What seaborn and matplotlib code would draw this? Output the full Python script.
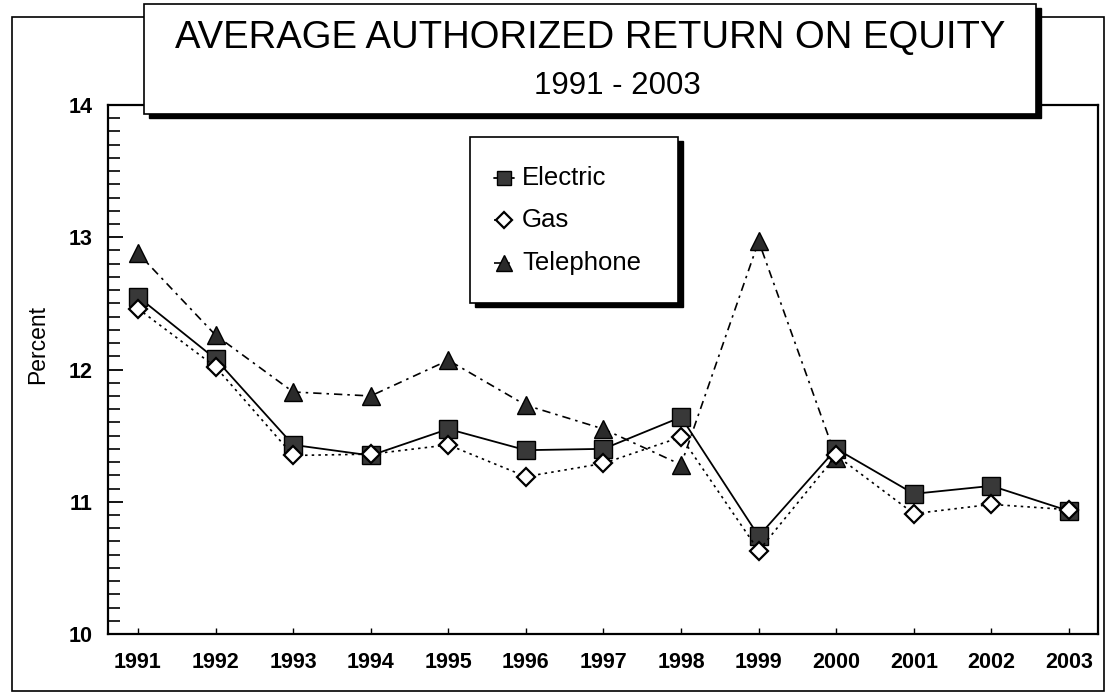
import numpy as np
import pandas as pd
import matplotlib
matplotlib.use("Agg")
import matplotlib.pyplot as plt
import seaborn as sns
from matplotlib.patches import Rectangle
from matplotlib.lines import Line2D
from matplotlib.ticker import MultipleLocator

# ---------------- data ----------------
years = list(range(1991, 2004))
electric = [12.55, 12.08, 11.43, 11.35, 11.55, 11.39, 11.40, 11.64, 10.74, 11.40, 11.06, 11.12, 10.93]
gas = [12.46, 12.02, 11.35, 11.36, 11.43, 11.19, 11.29, 11.49, 10.63, 11.35, 10.91, 10.98, 10.94]
telephone = [12.88, 12.26, 11.83, 11.80, 12.07, 11.73, 11.55, 11.28, 12.97, 11.33, np.nan, np.nan, np.nan]
series_names = ["Electric", "Gas", "Telephone"]
title = "AVERAGE AUTHORIZED RETURN ON EQUITY"
subtitle = "1991 - 2003"
y_label = "Percent"
y_ticks = [10, 11, 12, 13, 14]

df = pd.DataFrame({
    "Year": years * 3,
    "Percent": electric + gas + telephone,
    "Series": [series_names[0]] * 13 + [series_names[1]] * 13 + [series_names[2]] * 13,
})

sns.set_theme(style="white")
plt.rcParams["font.family"] = ["Liberation Sans", "DejaVu Sans"]

W, H = 1110, 696
fig = plt.figure(figsize=(W / 100, H / 100), dpi=100)
fig.patch.set_facecolor("white")


def fx(px):
    return px / W


def fy(py):
    return 1 - py / H


ax = fig.add_axes([fx(108), fy(634), fx(1098) - fx(108), fy(105) - fy(634)])

styles = {
    "Electric": dict(marker="s", markersize=12.5, markerfacecolor="#383838", markeredgecolor="black",
                     markeredgewidth=1.0, linestyle="-", linewidth=1.3),
    "Gas": dict(marker="D", markersize=9.5, markerfacecolor="white", markeredgecolor="black",
                markeredgewidth=1.6, linestyle=(0, (1.5, 2.5)), linewidth=1.2),
    "Telephone": dict(marker="^", markersize=13, markerfacecolor="#2a2a2a", markeredgecolor="black",
                      markeredgewidth=1.0, linestyle=(0, (5, 3, 1.5, 3)), linewidth=1.2),
}

for name in ["Telephone", "Electric", "Gas"]:
    sub = df[df["Series"] == name].dropna()
    sns.lineplot(data=sub, x="Year", y="Percent", ax=ax, color="black", legend=False,
                 **styles[name])

ax.set_xlim(1991 - 30 / 77.7, 2003 + 29 / 77.7)
ax.set_ylim(10, 14)
ax.set_xticks(years)
ax.set_xticklabels([str(y) for y in years])
ax.set_yticks(y_ticks)
ax.set_yticklabels([str(t) for t in y_ticks])
ax.yaxis.set_minor_locator(MultipleLocator(0.1))
ax.set_xlabel("")
ax.set_ylabel("")

ax.tick_params(axis="y", which="major", direction="in", length=11, width=1.3, left=True, right=False,
               pad=11, labelsize=15.5, labelcolor="black", color="black")
ax.tick_params(axis="y", which="minor", direction="in", length=8.5, width=1.2, left=True, right=False,
               color="black")
ax.tick_params(axis="x", which="major", direction="in", length=4.5, width=1.0, bottom=True, top=False,
               pad=13, labelsize=15.5, labelcolor="black", color="black")
for lab in ax.get_xticklabels() + ax.get_yticklabels():
    lab.set_fontweight("bold")

for s in ax.spines.values():
    s.set_visible(True)
    s.set_color("black")
    s.set_linewidth(1.6)
ax.grid(False)

fig.text(fx(38), fy(345), y_label, rotation=90, ha="center", va="center", fontsize=16.5, color="black")

# outer frame
fig.add_artist(Rectangle((fx(12), fy(691)), fx(1104) - fx(12), fy(17) - fy(691),
                         transform=fig.transFigure, fill=False, edgecolor="black", linewidth=1.2,
                         zorder=1))

# title box with shadow
tx0, tx1, ty0, ty1 = 144, 1036, 4, 114
fig.add_artist(Rectangle((fx(tx0 + 5), fy(ty1 + 4)), fx(tx1) - fx(tx0), fy(ty0) - fy(ty1),
                         transform=fig.transFigure, facecolor="black", edgecolor="black", zorder=5))
fig.add_artist(Rectangle((fx(tx0), fy(ty1)), fx(tx1) - fx(tx0), fy(ty0) - fy(ty1),
                         transform=fig.transFigure, facecolor="white", edgecolor="black",
                         linewidth=1.2, zorder=6))
fig.text(fx(590), fy(38), title, ha="center", va="center", fontsize=27.5, color="black", zorder=7)
fig.text(fx(617), fy(86), subtitle, ha="center", va="center", fontsize=22.5, color="black", zorder=7)

# legend box with shadow
lx0, lx1, ly0, ly1 = 470, 678, 137, 303
fig.add_artist(Rectangle((fx(lx0 + 5), fy(ly1 + 4)), fx(lx1) - fx(lx0), fy(ly0) - fy(ly1),
                         transform=fig.transFigure, facecolor="black", edgecolor="black", zorder=5))
fig.add_artist(Rectangle((fx(lx0), fy(ly1)), fx(lx1) - fx(lx0), fy(ly0) - fy(ly1),
                         transform=fig.transFigure, facecolor="white", edgecolor="black",
                         linewidth=1.2, zorder=6))
for name, py in zip(series_names, [178, 220, 263]):
    st = dict(styles[name])
    st["markersize"] = st["markersize"] * 0.85
    fig.add_artist(Line2D([fx(494), fx(504), fx(514)], [fy(py)] * 3, transform=fig.transFigure,
                          color="black", markevery=[1], zorder=7, **st))
    fig.text(fx(522), fy(py), name, ha="left", va="center", fontsize=18.5, color="black", zorder=7)

fig.savefig("out.png", dpi=100, facecolor="white")
